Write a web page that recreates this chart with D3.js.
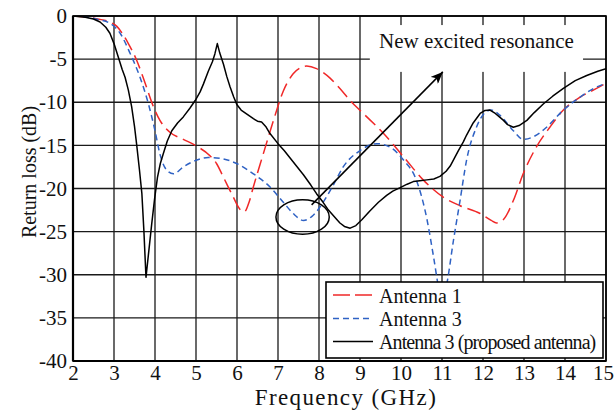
<!DOCTYPE html>
<html>
<head>
<meta charset="utf-8">
<script src="https://cdn.jsdelivr.net/npm/d3@7"></script>
<style>
  html, body { margin: 0; padding: 0; background: #fff; }
  svg { display: block; }
  text { font-family: "Liberation Serif", "Times New Roman", serif; fill: #111; }
</style>
</head>
<body>
<svg id="chart" width="614" height="414"></svg>
<script>
// ---------- data ----------
const xTicks = [2, 3, 4, 5, 6, 7, 8, 9, 10, 11, 12, 13, 14, 15];
const yTicks = [0, -5, -10, -15, -20, -25, -30, -35, -40];

const ant1Freq = [2.0, 2.3, 2.6, 2.9, 3.07, 3.2, 3.35, 3.55, 3.76, 3.96, 4.12, 4.37, 4.69, 5.02, 5.34, 5.5, 5.67, 5.91, 6.07, 6.18, 6.3, 6.4, 6.64, 6.89, 7.13, 7.37, 7.55, 7.7, 7.94, 8.27, 8.51, 8.76, 9.08, 9.57, 10.06, 10.54, 11.03, 11.44, 11.93, 12.2, 12.33, 12.5, 12.74, 12.98, 13.3, 13.63, 13.96, 14.37, 14.77, 15.0];
const ant1Loss = [0, -0.1, -0.35, -0.7, -1.2, -2.0, -3.2, -5.1, -7.8, -10.5, -12.1, -13.5, -14.3, -15.1, -16.2, -17.1, -18.7, -21.0, -22.4, -22.7, -21.5, -19.8, -16.0, -12.1, -8.7, -6.7, -6.0, -5.8, -6.1, -7.2, -8.4, -9.8, -11.3, -13.6, -16.3, -19.0, -21.0, -22.0, -22.9, -23.7, -24.0, -23.6, -21.4, -18.3, -15.2, -12.9, -10.9, -9.4, -8.4, -7.8];

const ant3Freq = [2.0, 2.3, 2.6, 2.9, 3.15, 3.39, 3.63, 3.84, 4.0, 4.12, 4.29, 4.45, 4.69, 5.02, 5.3, 5.59, 5.99, 6.4, 6.8, 7.13, 7.37, 7.62, 7.86, 8.1, 8.35, 8.59, 9.0, 9.41, 9.73, 10.06, 10.38, 10.63, 10.79, 10.92, 11.02, 11.12, 11.28, 11.44, 11.6, 11.84, 12.05, 12.2, 12.41, 12.74, 12.98, 13.23, 13.55, 13.96, 14.37, 14.7, 15.0];
const ant3Loss = [0, -0.1, -0.4, -0.85, -2.0, -4.3, -7.05, -10.2, -13.3, -16.0, -17.9, -18.3, -17.5, -16.7, -16.4, -16.5, -17.1, -18.3, -19.8, -21.6, -22.9, -23.7, -23.1, -21.6, -19.6, -17.5, -15.6, -14.8, -15.2, -16.7, -19.1, -23.5, -27.8, -31.5, -33.0, -31.0, -26.0, -21.4, -16.7, -12.9, -11.2, -10.9, -11.5, -13.3, -14.3, -14.0, -12.9, -10.9, -9.4, -8.4, -7.8];

const propFreq = [2.0, 2.3, 2.5, 2.66, 2.8, 2.9, 3.0, 3.1, 3.2, 3.27, 3.35, 3.43, 3.5, 3.55, 3.62, 3.68, 3.73, 3.78, 3.85, 3.92, 3.99, 4.06, 4.13, 4.2, 4.3, 4.41, 4.55, 4.69, 4.85, 4.98, 5.1, 5.18, 5.3, 5.4, 5.46, 5.52, 5.58, 5.67, 5.75, 5.83, 5.92, 6.0, 6.1, 6.25, 6.4, 6.5, 6.6, 6.7, 6.8, 7.0, 7.15, 7.3, 7.45, 7.62, 7.8, 7.94, 8.1, 8.23, 8.38, 8.51, 8.62, 8.76, 8.9, 9.05, 9.24, 9.45, 9.65, 9.8, 9.98, 10.15, 10.3, 10.46, 10.63, 10.8, 10.95, 11.1, 11.2, 11.3, 11.4, 11.52, 11.6, 11.76, 11.93, 12.05, 12.17, 12.3, 12.4, 12.5, 12.6, 12.74, 12.88, 13.07, 13.25, 13.47, 13.7, 13.96, 14.25, 14.53, 14.8, 15.0];
const propLoss = [0, -0.15, -0.35, -0.7, -1.3, -2.0, -3.2, -4.7, -6.2, -7.1, -8.6, -10.5, -12.8, -14.8, -17.8, -20.6, -25.0, -30.3, -27.2, -24.1, -21.2, -18.7, -17.1, -16.0, -14.5, -13.3, -12.4, -11.7, -10.7, -9.8, -8.8, -7.9, -6.4, -5.3, -4.4, -3.2, -4.3, -5.6, -7.0, -8.2, -9.4, -10.3, -10.9, -11.4, -11.9, -12.2, -12.3, -12.8, -13.6, -14.8, -15.6, -16.5, -17.4, -18.4, -19.6, -20.6, -21.6, -22.5, -23.3, -24.0, -24.4, -24.6, -24.3, -23.6, -22.6, -21.6, -20.8, -20.3, -19.9, -19.5, -19.2, -19.1, -19.0, -18.9, -18.6, -18.0, -17.4, -16.5, -15.6, -14.6, -13.8, -12.4, -11.3, -10.95, -10.9, -11.3, -11.7, -12.1, -12.6, -12.9, -12.7, -12.1, -11.2, -10.2, -9.3, -8.4, -7.5, -6.9, -6.4, -6.1];

const seriesNames = ["Antenna 1", "Antenna 3", "Antenna 3 (proposed antenna)"];
const annotationText = "New excited resonance";
const xLabel = "Frequency (GHz)";
const yLabel = "Return loss (dB)";

// annotation anchors in data units
const ellipseCenter = [7.6, -23.3];
const ellipseRadii = [0.65, 2.0];
const arrowFrom = [7.82, -21.9];
const arrowTo = [11.02, -6.48];
const noteBox = [9.24, -1.05, 14.44, -6.48]; // x0, y0, x1, y1
const notePos = [11.84, -3.7];

// ---------- layout ----------
const svg = d3.select("#chart");
const L = 73, R = 606, T = 16, B = 361;
const x = d3.scaleLinear().domain([2, 15]).range([L, R]);
const y = d3.scaleLinear().domain([-40, 0]).range([B, T]);

// grid
const grid = svg.append("g");
grid.selectAll("line.v").data(xTicks).join("line")
  .attr("x1", d => x(d)).attr("x2", d => x(d)).attr("y1", T).attr("y2", B)
  .attr("stroke", "#1a1a1a").attr("stroke-width", 1.3);
grid.selectAll("line.h").data(yTicks).join("line")
  .attr("x1", L).attr("x2", R).attr("y1", d => y(d)).attr("y2", d => y(d))
  .attr("stroke", "#1a1a1a").attr("stroke-width", d => d === -10 ? 1.7 : 1.3);

// curves
svg.append("clipPath").attr("id", "clip").append("rect")
  .attr("x", L).attr("y", T).attr("width", R - L).attr("height", B - T);
const mk = (fs, ls) => fs.map((f, i) => [f, ls[i]]);
const lineSmooth = d3.line().x(d => x(d[0])).y(d => y(d[1])).curve(d3.curveMonotoneX);
const lineLin = d3.line().x(d => x(d[0])).y(d => y(d[1])).curve(d3.curveLinear);
const curves = svg.append("g").attr("clip-path", "url(#clip)");

const styles = [
  { color: "#f02828", dash: "14,6", width: 1.5 },
  { color: "#2f62c4", dash: "6,4", width: 1.5 },
  { color: "#000000", dash: null, width: 1.5 }
];

curves.append("path").datum(mk(ant1Freq, ant1Loss)).attr("d", lineSmooth)
  .attr("fill", "none").attr("stroke", styles[0].color).attr("stroke-width", styles[0].width)
  .attr("stroke-dasharray", styles[0].dash);
curves.append("path").datum(mk(ant3Freq, ant3Loss)).attr("d", lineSmooth)
  .attr("fill", "none").attr("stroke", styles[1].color).attr("stroke-width", styles[1].width)
  .attr("stroke-dasharray", styles[1].dash);
curves.append("path").datum(mk(propFreq, propLoss)).attr("d", lineLin)
  .attr("fill", "none").attr("stroke", styles[2].color).attr("stroke-width", styles[2].width)
  .attr("stroke-linejoin", "round");

// annotation box + text
svg.append("rect")
  .attr("x", x(noteBox[0])).attr("y", y(noteBox[1]))
  .attr("width", x(noteBox[2]) - x(noteBox[0])).attr("height", y(noteBox[3]) - y(noteBox[1]))
  .attr("fill", "#fff");
svg.append("text").attr("x", x(notePos[0])).attr("y", y(notePos[1]))
  .attr("text-anchor", "middle").attr("font-size", 21).text(annotationText);

// ellipse
svg.append("ellipse")
  .attr("cx", x(ellipseCenter[0])).attr("cy", y(ellipseCenter[1]))
  .attr("rx", x(ellipseCenter[0] + ellipseRadii[0]) - x(ellipseCenter[0]))
  .attr("ry", y(ellipseCenter[1] - ellipseRadii[1]) - y(ellipseCenter[1]))
  .attr("fill", "none").attr("stroke", "#000").attr("stroke-width", 1.5);

// arrow
svg.append("defs").append("marker").attr("id", "arrowhead")
  .attr("viewBox", "0 0 12 10").attr("refX", 12).attr("refY", 5)
  .attr("markerWidth", 12).attr("markerHeight", 10).attr("markerUnits", "userSpaceOnUse")
  .attr("orient", "auto")
  .append("path").attr("d", "M0,0 L12,5 L0,10 L3,5 Z").attr("fill", "#000");
svg.append("line")
  .attr("x1", x(arrowFrom[0])).attr("y1", y(arrowFrom[1]))
  .attr("x2", x(arrowTo[0])).attr("y2", y(arrowTo[1]))
  .attr("stroke", "#000").attr("stroke-width", 1.5).attr("marker-end", "url(#arrowhead)");

// frame
svg.append("rect").attr("x", L).attr("y", T).attr("width", R - L).attr("height", B - T)
  .attr("fill", "none").attr("stroke", "#000").attr("stroke-width", 1.6);
svg.append("line").attr("x1", L).attr("x2", R).attr("y1", B).attr("y2", B)
  .attr("stroke", "#000").attr("stroke-width", 2.2);
svg.append("line").attr("x1", L).attr("x2", L).attr("y1", T).attr("y2", B)
  .attr("stroke", "#000").attr("stroke-width", 2.2);

// axes (labels via d3 axes)
const xAxis = d3.axisBottom(x).tickValues(xTicks).tickSize(0).tickPadding(4).tickFormat(d3.format("d"));
const yAxis = d3.axisLeft(y).tickValues(yTicks).tickSize(0).tickPadding(6).tickFormat(d => d === 0 ? "0" : "-" + Math.abs(d));
const gx = svg.append("g").attr("transform", `translate(0,${B})`).call(xAxis);
const gy = svg.append("g").attr("transform", `translate(${L},0)`).call(yAxis);
[gx, gy].forEach(g => {
  g.select(".domain").remove();
  g.selectAll("text").attr("font-size", 21).attr("fill", "#111")
    .style("font-family", '"Liberation Serif", "Times New Roman", serif');
});
gx.selectAll("text").attr("dy", "0.71em");
// keep the last tick label inside the page
gx.selectAll(".tick").filter(d => d === 15).select("text").attr("dx", -3);

svg.append("text").attr("x", 346).attr("y", 405).attr("text-anchor", "middle")
  .attr("font-size", 23).attr("letter-spacing", 1.4).text(xLabel);
svg.append("text").attr("transform", "translate(36,172) rotate(-90)")
  .attr("text-anchor", "middle").attr("font-size", 20).text(yLabel);

// legend
const lg = svg.append("g");
lg.append("rect").attr("x", 326).attr("y", 282).attr("width", 277).attr("height", 76)
  .attr("fill", "#fff").attr("stroke", "#000").attr("stroke-width", 1.6);
const rowY = [295, 318.5, 341.5];
seriesNames.forEach((name, i) => {
  lg.append("line").attr("x1", 333).attr("x2", 373).attr("y1", rowY[i]).attr("y2", rowY[i])
    .attr("stroke", styles[i].color).attr("stroke-width", styles[i].width)
    .attr("stroke-dasharray", i === 0 ? "17,5" : styles[i].dash);
  lg.append("text").attr("x", 379).attr("y", rowY[i] + 7.5).attr("font-size", 20)
    .attr("letter-spacing", i === 2 ? -0.9 : 0).text(name);
});
</script>
</body>
</html>
